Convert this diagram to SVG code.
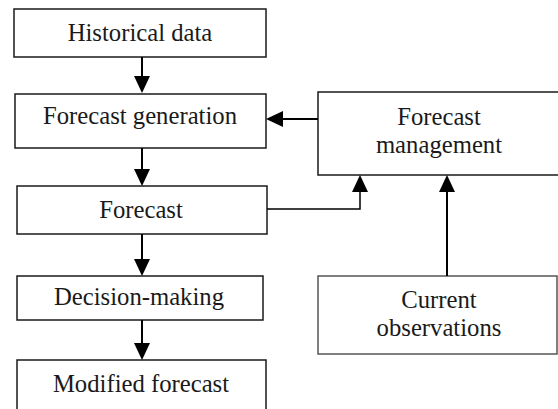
<svg xmlns="http://www.w3.org/2000/svg" width="558" height="409" viewBox="0 0 558 409">
<style>
.box{fill:#fff;stroke:#1a1a1a;stroke-width:1.5}
.box2{fill:#fff;stroke:#555;stroke-width:1.5}
text{font-family:'Liberation Serif','DejaVu Serif',serif;font-size:24.7px;fill:#1a1a1a;text-anchor:middle}
.c{fill:none;stroke:#000;stroke-width:2}
.c1{fill:none;stroke:#000;stroke-width:1.5}
</style>
<defs>
<marker id="ah" viewBox="0 0 17 16" refX="0" refY="8" markerWidth="17" markerHeight="16" markerUnits="userSpaceOnUse" orient="auto">
<path d="M0,0 L17,8 L0,16 z" fill="#000"/>
</marker>
</defs>
<rect width="558" height="409" fill="#fff"/>
<g id="n-historical">
<rect class="box" x="14" y="9" width="252" height="48"/>
<text x="140" y="41">Historical data</text>
</g>
<g id="n-generation">
<rect class="box" x="15" y="94" width="251" height="54"/>
<text x="140" y="124">Forecast generation</text>
</g>
<g id="n-forecast">
<rect class="box" x="17" y="186" width="250" height="48"/>
<text x="141" y="218">Forecast</text>
</g>
<g id="n-decision">
<rect class="box" x="17" y="276" width="246" height="44"/>
<text x="139" y="305">Decision-making</text>
</g>
<g id="n-modified">
<rect class="box" x="17" y="360" width="249" height="60"/>
<text x="141" y="392">Modified forecast</text>
</g>
<g id="n-management">
<rect class="box" x="318" y="92" width="250" height="83"/>
<text x="439" y="125">Forecast</text>
<text x="439" y="153">management</text>
</g>
<g id="n-observations">
<rect class="box2" x="318" y="276" width="239" height="78"/>
<text x="439" y="308">Current</text>
<text x="439" y="336">observations</text>
</g>
<g id="connectors">
<path class="c" d="M142,57 V76" marker-end="url(#ah)"/>
<path class="c" d="M142,148 V169" marker-end="url(#ah)"/>
<path class="c" d="M142,234 V259" marker-end="url(#ah)"/>
<path class="c" d="M142,320 V343" marker-end="url(#ah)"/>
<path class="c" d="M318,119 H283" marker-end="url(#ah)"/>
<path class="c1" d="M267,209 H360 V192" marker-end="url(#ah)"/>
<path class="c" d="M447,276 V192" marker-end="url(#ah)"/>
</g>
</svg>
